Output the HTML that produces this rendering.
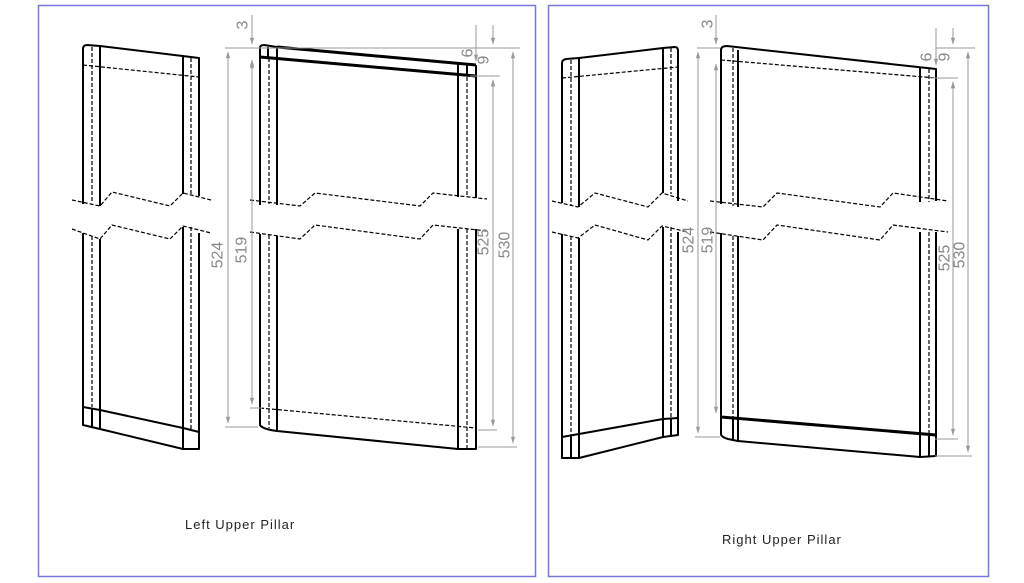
<!DOCTYPE html>
<html><head><meta charset="utf-8"><style>
html,body{margin:0;padding:0;background:#fff}
svg{display:block}
text{font-family:"Liberation Sans",sans-serif;fill:#888}
.s{stroke:#000;stroke-width:2;fill:none;stroke-linejoin:round}
.t{stroke:#000;stroke-width:3;fill:none}
.d{stroke:#000;stroke-width:1.2;fill:none;stroke-dasharray:4 2}
.g{stroke:#999;stroke-width:1;fill:none}
.dm{stroke:#999;stroke-width:1;fill:none;marker-start:url(#a);marker-end:url(#a)}
.lab{fill:#222;font-size:13px;letter-spacing:1px}
</style></head><body>
<svg width="1024" height="583" viewBox="0 0 1024 583">
<defs><marker id="a" viewBox="0 0 10 10" refX="9" refY="5" markerWidth="7" markerHeight="7" orient="auto-start-reverse"><path d="M0,2 L10,5 L0,8 z" fill="#999"/></marker>
<marker id="b" viewBox="0 0 10 10" refX="9" refY="5" markerWidth="7" markerHeight="7" orient="auto"><path d="M0,2 L10,5 L0,8 z" fill="#999"/></marker></defs>
<rect x="38.5" y="5.5" width="497" height="571" fill="none" stroke="#7777dd" stroke-width="1.5"/>
<rect x="548.5" y="5.5" width="440" height="571" fill="none" stroke="#7777dd" stroke-width="1.5"/>

<path class="s" d="M83,204 V49 Q83,45 87,45 L100,46 L199,58 V196"/>
<path class="s" d="M100,46 V206 M183,57 V194"/>
<path class="d" d="M92,47 V203 M191,58 V195 M83,65 L199,77"/>
<path class="d" d="M72,200 L100,206 L112,192 L170,206 L183,193 L211,200"/>
<path class="d" d="M72,229 L100,239 L112,225 L170,239 L183,226 L211,233"/>
<path class="s" d="M83,233 V425 L100,429 L183,449 L199,449 V233"/>
<path class="s" d="M100,239 V429 M183,227 V449"/>
<path class="d" d="M92,236 V407 M191,227 V430"/>
<path class="s" d="M83,407 L100,410 L183,428 L199,432"/>
<path class="s" d="M92,408 V427"/>

<path class="s" d="M260,205 V48 Q260,45 264,45 L277,47"/>
<path class="t" d="M277,47 L476,65 M260,57 L476,76"/>
<path class="s" d="M277,47 V205 M268,47 V57 M458,64 V197 M467,65 V76 M476,65 V198"/>
<path class="d" d="M269,58 V204 M467,77 V197"/>
<path class="d" d="M250,200 L300,206 L315,193 L420,206 L433,193 L487,199"/>
<path class="d" d="M250,232 L300,239 L315,225 L420,239 L433,225 L487,231"/>
<path class="s" d="M260,234 V425 Q262,429 277,431 L458,449 L476,449 V229"/>
<path class="s" d="M277,236 V431 M458,229 V449"/>
<path class="d" d="M269,235 V428 M467,229 V448 M260,408 L476,428"/>

<path class="g" d="M225,48 H520 M225,427 H258 M250,408 H262 M470,76 H500 M478,430 H497 M478,447 H517"/>
<path class="dm" d="M228,52 V423"/>
<path class="g" d="M252,15 V44" marker-end="url(#b)"/>
<path class="g" d="M252,70 V60" marker-end="url(#b)"/>
<path class="dm" d="M252,62 V404"/>
<path class="g" d="M476,25 V61" marker-end="url(#b)"/>
<path class="g" d="M493,25 V44" marker-end="url(#b)"/>
<path class="g" d="M493,95 V80" marker-end="url(#b)"/>
<path class="dm" d="M493,80 V426"/>
<path class="dm" d="M513,52 V443"/>
<g font-size="16">
<text x="243" y="25" transform="rotate(-90 243 25)" text-anchor="middle" dominant-baseline="central">3</text>
<text x="218" y="255" transform="rotate(-90 218 255)" text-anchor="middle" dominant-baseline="central">524</text>
<text x="242" y="250" transform="rotate(-90 242 250)" text-anchor="middle" dominant-baseline="central">519</text>
<text x="468" y="53" transform="rotate(-90 468 53)" text-anchor="middle" dominant-baseline="central">6</text>
<text x="484" y="60" transform="rotate(-90 484 60)" text-anchor="middle" dominant-baseline="central">9</text>
<text x="484" y="242" transform="rotate(-90 484 242)" text-anchor="middle" dominant-baseline="central">525</text>
<text x="505" y="245" transform="rotate(-90 505 245)" text-anchor="middle" dominant-baseline="central">530</text>
</g>
<text class="lab" x="185" y="529">Left Upper Pillar</text>

<path class="s" d="M562,203 V63 Q562,60 566,59 L579,58 L663,48 L675,47 Q678,47 678,51 V201"/>
<path class="s" d="M579,58 V207 M663,48 V193"/>
<path class="d" d="M571,60 V205 M671,48 V194 M562,78 L678,67"/>
<path class="d" d="M552,201 L578,207 L595,193 L648,207 L662,193 L688,201"/>
<path class="d" d="M552,232 L578,238 L595,225 L648,240 L662,226 L688,232"/>
<path class="s" d="M562,234 V458 L579,458 L663,437 L678,435 V232"/>
<path class="s" d="M579,238 V458 M663,227 V437"/>
<path class="d" d="M571,236 V437 M671,227 V418"/>
<path class="s" d="M562,437 L579,434 L663,419 L678,418 M571,436 V458 M671,419 V436"/>

<path class="s" d="M721,204 V50 Q721,46 727,46 L936,69 V201"/>
<path class="s" d="M738,50 V207 M920,67 V202"/>
<path class="d" d="M733,48 V206 M929,69 V202 M721,60 L936,78"/>
<path class="d" d="M710,201 L763,207 L777,193 L880,207 L893,193 L948,201"/>
<path class="d" d="M710,232 L763,240 L777,225 L880,240 L893,225 L948,232"/>
<path class="s" d="M721,233 V434 Q721,437 728,439 L738,441 L920,457 L936,456 V232"/>
<path class="s" d="M738,236 V441 M920,232 V457 M929,436 V456 M733,418 V440"/>
<path class="d" d="M733,236 V418 M929,232 V435"/>
<path class="t" d="M721,417 L936,435"/>

<path class="g" d="M697,48 H720 M936,48 H975 M695,437 H720 M930,78 H958 M935,439 H958 M935,456 H972"/>
<path class="dm" d="M698,52 V433"/>
<path class="g" d="M716,15 V44" marker-end="url(#b)"/>
<path class="dm" d="M716,64 V413"/>
<path class="g" d="M936,28 V65" marker-end="url(#b)"/>
<path class="g" d="M953,28 V44" marker-end="url(#b)"/>
<path class="g" d="M953,95 V82" marker-end="url(#b)"/>
<path class="dm" d="M953,82 V435"/>
<path class="dm" d="M968,52 V452"/>
<g font-size="16">
<text x="708" y="24" transform="rotate(-90 708 24)" text-anchor="middle" dominant-baseline="central">3</text>
<text x="689" y="240" transform="rotate(-90 689 240)" text-anchor="middle" dominant-baseline="central">524</text>
<text x="708" y="240" transform="rotate(-90 708 240)" text-anchor="middle" dominant-baseline="central">519</text>
<text x="927" y="57" transform="rotate(-90 927 57)" text-anchor="middle" dominant-baseline="central">6</text>
<text x="945" y="57" transform="rotate(-90 945 57)" text-anchor="middle" dominant-baseline="central">9</text>
<text x="945" y="258" transform="rotate(-90 945 258)" text-anchor="middle" dominant-baseline="central">525</text>
<text x="960" y="255" transform="rotate(-90 960 255)" text-anchor="middle" dominant-baseline="central">530</text>
</g>
<text class="lab" x="722" y="544">Right Upper Pillar</text>
</svg>
</body></html>
